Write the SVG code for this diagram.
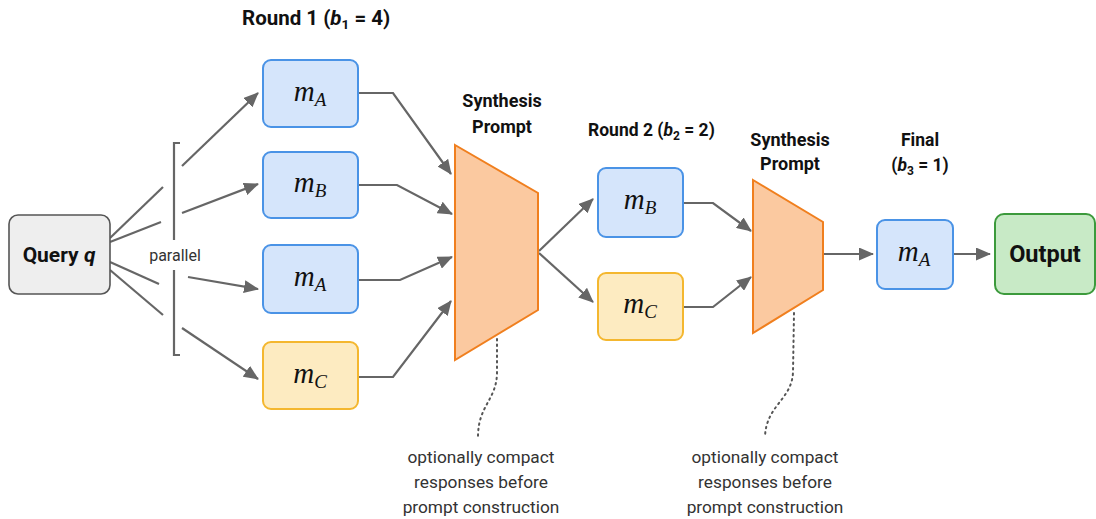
<svg xmlns="http://www.w3.org/2000/svg" width="1096" height="519" viewBox="0 0 1096 519">
<defs>
<marker id="ah" markerUnits="userSpaceOnUse" markerWidth="15" markerHeight="13" refX="14" refY="6.5" orient="auto">
<path d="M0,0 L15,6.5 L0,13 Z" fill="#666"/>
</marker>
<style>
.blue{fill:#d5e5fb;stroke:#4a93e6;stroke-width:2}
.yel{fill:#fdebc1;stroke:#f4b72f;stroke-width:2}
.trap{fill:#fbc9a0;stroke:#f07f1e;stroke-width:2}
.conn{fill:none;stroke:#666;stroke-width:2.2}
.dot{fill:none;stroke:#555;stroke-width:2;stroke-dasharray:1.5 4;stroke-linecap:round}
.m{font-family:"Liberation Serif",serif;font-style:italic;font-size:29px;fill:#111}
.sub{font-size:19px}
.ttl{font-family:Roboto,"Liberation Sans",sans-serif;font-weight:bold;fill:#111}
.note{font-family:Roboto,"Liberation Sans",sans-serif;font-size:17.3px;fill:#333;text-anchor:middle}
</style>
</defs>
<rect width="1096" height="519" fill="#fff"/>

<g id="titles" class="ttl">
<text x="242" y="25" font-size="20.5">Round 1 (<tspan font-style="italic">b</tspan><tspan font-size="13.5" dy="4">1</tspan><tspan dy="-4"> = 4)</tspan></text>
<text x="588" y="136" font-size="17.5">Round 2 (<tspan font-style="italic">b</tspan><tspan font-size="12" dy="4">2</tspan><tspan dy="-4"> = 2)</tspan></text>
<text x="920" y="146" font-size="17.5" text-anchor="middle">Final</text>
<text x="920" y="171" font-size="17.5" text-anchor="middle">(<tspan font-style="italic">b</tspan><tspan font-size="12" dy="4">3</tspan><tspan dy="-4"> = 1)</tspan></text>
</g>

<g id="connectors">
<line class="conn" x1="110" y1="238" x2="163" y2="187"/>
<line class="conn" x1="110" y1="242" x2="161" y2="222"/>
<line class="conn" x1="110" y1="262" x2="159" y2="284"/>
<line class="conn" x1="110" y1="270" x2="163" y2="315"/>
<path class="conn" d="M180,143 L174,143 L174,240"/>
<path class="conn" d="M174,270 L174,355 L180,355"/>
<line class="conn" x1="182" y1="166" x2="258" y2="93" marker-end="url(#ah)"/>
<line class="conn" x1="182" y1="213" x2="258" y2="184" marker-end="url(#ah)"/>
<line class="conn" x1="188" y1="277" x2="258" y2="289" marker-end="url(#ah)"/>
<line class="conn" x1="182" y1="328" x2="258" y2="379" marker-end="url(#ah)"/>
<path class="conn" d="M358,93 L393,93 L451,174" marker-end="url(#ah)"/>
<path class="conn" d="M358,185 L397,185 L452,214" marker-end="url(#ah)"/>
<path class="conn" d="M358,280 L400,280 L452,257" marker-end="url(#ah)"/>
<path class="conn" d="M358,377 L393,377 L451,301" marker-end="url(#ah)"/>
<line class="conn" x1="539" y1="251" x2="593" y2="199" marker-end="url(#ah)"/>
<line class="conn" x1="539" y1="253" x2="593" y2="302" marker-end="url(#ah)"/>
<path class="conn" d="M683,203 L713,203 L751,231" marker-end="url(#ah)"/>
<path class="conn" d="M683,307 L713,307 L751,277" marker-end="url(#ah)"/>
<line class="conn" x1="823" y1="254" x2="873" y2="254" marker-end="url(#ah)"/>
<line class="conn" x1="953" y1="254" x2="990" y2="254" marker-end="url(#ah)"/>
<path class="dot" d="M497,339 L497,372 C497,400 478,405 478,437"/>
<path class="dot" d="M794,313 L793,372 C792,400 766,405 765,437"/>
</g>

<g id="query">
<rect x="9" y="215" width="101" height="79" rx="9" fill="#eeeeee" stroke="#555" stroke-width="1.6"/>
<text x="59" y="262" class="ttl" font-size="21" text-anchor="middle">Query <tspan font-style="italic">q</tspan></text>
</g>
<text id="parallel-label" x="175" y="261" font-family="Roboto,'Liberation Sans',sans-serif" font-size="16" fill="#333" text-anchor="middle">parallel</text>

<g id="r1-mA">
<rect class="blue" x="263" y="60" width="95" height="67" rx="8"/>
<text class="m" x="310" y="101" text-anchor="middle">m<tspan class="sub" dy="5">A</tspan></text>
</g>
<g id="r1-mB">
<rect class="blue" x="263" y="152" width="95" height="66" rx="8"/>
<text class="m" x="310" y="192" text-anchor="middle">m<tspan class="sub" dy="5">B</tspan></text>
</g>
<g id="r1-mA2">
<rect class="blue" x="263" y="245" width="95" height="68" rx="8"/>
<text class="m" x="310" y="286" text-anchor="middle">m<tspan class="sub" dy="5">A</tspan></text>
</g>
<g id="r1-mC">
<rect class="yel" x="263" y="342" width="95" height="67" rx="8"/>
<text class="m" x="310" y="383" text-anchor="middle">m<tspan class="sub" dy="5">C</tspan></text>
</g>

<g id="synth1">
<polygon class="trap" points="455,145 538,193 538,310 455,360"/>
<text class="ttl" font-size="18" x="502" y="107" text-anchor="middle">Synthesis</text>
<text class="ttl" font-size="18" x="502" y="133" text-anchor="middle">Prompt</text>
</g>

<g id="r2-mB">
<rect class="blue" x="598" y="168" width="85" height="69" rx="8"/>
<text class="m" x="640" y="209" text-anchor="middle">m<tspan class="sub" dy="5">B</tspan></text>
</g>
<g id="r2-mC">
<rect class="yel" x="598" y="273" width="85" height="67" rx="8"/>
<text class="m" x="640" y="313" text-anchor="middle">m<tspan class="sub" dy="5">C</tspan></text>
</g>

<g id="synth2">
<polygon class="trap" points="753,180 823,222 823,290 753,333"/>
<text class="ttl" font-size="18" x="790" y="146" text-anchor="middle">Synthesis</text>
<text class="ttl" font-size="18" x="790" y="170" text-anchor="middle">Prompt</text>
</g>

<g id="final-mA">
<rect class="blue" x="877" y="220" width="76" height="69" rx="8"/>
<text class="m" x="914" y="261" text-anchor="middle">m<tspan class="sub" dy="5">A</tspan></text>
</g>

<g id="output">
<rect x="995" y="214" width="100" height="80" rx="9" fill="#c8eac6" stroke="#3c9a3c" stroke-width="2"/>
<text class="ttl" font-size="23.5" x="1045" y="262" text-anchor="middle">Output</text>
</g>

<g id="note1">
<text class="note" x="481" y="463">optionally compact</text>
<text class="note" x="481" y="488">responses before</text>
<text class="note" x="481" y="513">prompt construction</text>
</g>
<g id="note2">
<text class="note" x="765" y="463">optionally compact</text>
<text class="note" x="765" y="488">responses before</text>
<text class="note" x="765" y="513">prompt construction</text>
</g>
</svg>
